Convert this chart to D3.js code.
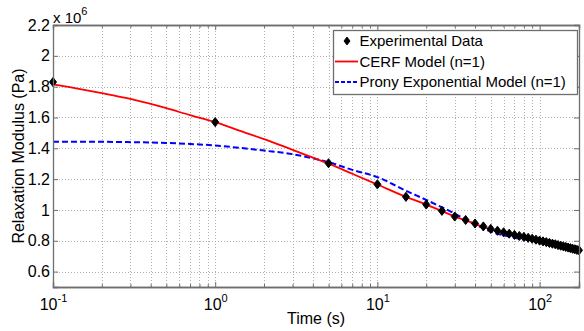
<!DOCTYPE html>
<html>
<head>
<meta charset="utf-8">
<script src="https://cdn.jsdelivr.net/npm/d3@7"></script>
<style>
  body { margin: 0; background: #fff; }
  svg { display: block; font-family: "Liberation Sans", Arial, sans-serif; }
</style>
</head>
<body>
<div id="container"></div>
<script>
// experimental relaxation data (time in s, modulus in MPa)
var expTime = [0.1, 1, 5, 10, 15, 20, 25, 30, 35, 40, 45, 50, 55, 60, 65, 70, 75, 80, 85, 90,
  95, 100, 105, 110, 115, 120, 125, 130, 135, 140, 145, 150, 155, 160, 165, 170, 175];
var expModulus = [1.83, 1.57, 1.303, 1.166, 1.085, 1.035, 0.994, 0.957, 0.935, 0.912, 0.893, 0.877,
  0.865, 0.855, 0.846, 0.838, 0.831, 0.825, 0.819, 0.813, 0.807, 0.801, 0.796, 0.791, 0.786,
  0.781, 0.777, 0.772, 0.768, 0.764, 0.760, 0.756, 0.752, 0.748, 0.745, 0.741, 0.738];

// CERF model (n=1)
var cerfTime = [0.1, 0.15, 0.2, 0.3, 0.5, 0.7, 1, 1.5, 2, 3, 4, 5, 7, 10, 15, 20, 30, 40, 50, 70, 100, 130, 175];
var cerfModulus = [1.815, 1.783, 1.758, 1.72, 1.66, 1.615, 1.57, 1.505, 1.46, 1.39, 1.34, 1.30, 1.235,
  1.165, 1.085, 1.035, 0.958, 0.91, 0.872, 0.832, 0.795, 0.763, 0.735];

// Prony exponential model (n=1)
var pronyTime = [0.1, 0.2, 0.3, 0.5, 0.7, 1, 1.5, 2, 3, 4, 5, 7, 10, 15, 20, 30, 40, 50, 70, 100, 130, 175];
var pronyModulus = [1.443, 1.442, 1.44, 1.435, 1.428, 1.418, 1.40, 1.385, 1.362, 1.335, 1.31, 1.26,
  1.213, 1.125, 1.065, 0.976, 0.905, 0.86, 0.82, 0.795, 0.779, 0.755];

var yTicks = [0.6, 0.8, 1, 1.2, 1.4, 1.6, 1.8, 2, 2.2];
var xDecades = [0.1, 1, 10, 100];
var xDecadeExp = ['-1', '0', '1', '2'];
var legendNames = ['Experimental Data', 'CERF Model (n=1)', 'Prony Exponential Model (n=1)'];

var width = 584, height = 331;
var svg = d3.select('#container').append('svg')
  .attr('width', width)
  .attr('height', height);

var x = d3.scaleLog().domain([0.1, 175]).range([53, 579]);
var y = d3.scaleLinear().domain([0.5, 2.2]).range([287, 25]);
var frameColor = '#6e6e6e';

svg.append('rect')
  .attr('x', x.range()[0]).attr('y', y.range()[1])
  .attr('width', x.range()[1] - x.range()[0])
  .attr('height', y.range()[0] - y.range()[1])
  .attr('fill', '#fff');

// dotted grid, major and minor
var grid = svg.append('g')
  .attr('stroke', '#b0b0b0')
  .attr('stroke-width', 1)
  .attr('stroke-dasharray', '1,2');

grid.selectAll('.gx').data(x.ticks()).enter().append('line')
  .attr('x1', function(d) { return Math.round(x(d)) + 0.5; })
  .attr('x2', function(d) { return Math.round(x(d)) + 0.5; })
  .attr('y1', y.range()[0]).attr('y2', y.range()[1]);

grid.selectAll('.gy').data(yTicks).enter().append('line')
  .attr('x1', x.range()[0]).attr('x2', x.range()[1])
  .attr('y1', function(d) { return Math.round(y(d)) + 0.5; })
  .attr('y2', function(d) { return Math.round(y(d)) + 0.5; });

// curves
svg.append('clipPath').attr('id', 'clip').append('rect')
  .attr('x', x.range()[0]).attr('y', y.range()[1])
  .attr('width', x.range()[1] - x.range()[0])
  .attr('height', y.range()[0] - y.range()[1]);

var plot = svg.append('g').attr('clip-path', 'url(#clip)');

var line = d3.line()
  .x(function(d) { return x(d[0]); })
  .y(function(d) { return y(d[1]); })
  .curve(d3.curveMonotoneX);

plot.append('path')
  .datum(d3.zip(pronyTime, pronyModulus))
  .attr('d', line)
  .attr('fill', 'none')
  .attr('stroke', '#0000ff')
  .attr('stroke-width', 2)
  .attr('stroke-dasharray', '6,3');

plot.append('path')
  .datum(d3.zip(cerfTime, cerfModulus))
  .attr('d', line)
  .attr('fill', 'none')
  .attr('stroke', '#ff0000')
  .attr('stroke-width', 1.8);

// matlab-ish diamond: a bit taller than wide
var matlabDiamond = {
  draw: function(context, size) {
    var r = Math.sqrt(size) / 2;
    context.moveTo(0, -r * 1.3);
    context.lineTo(r, 0);
    context.lineTo(0, r * 1.3);
    context.lineTo(-r, 0);
    context.closePath();
  }
};
var diamond = d3.symbol().type(matlabDiamond).size(49);

svg.append('g').selectAll('path')
  .data(d3.zip(expTime, expModulus))
  .enter().append('path')
    .attr('d', diamond)
    .attr('transform', function(d) { return 'translate(' + x(d[0]) + ',' + y(d[1]) + ')'; })
    .attr('fill', '#000')
    .attr('stroke', '#000')
    .attr('stroke-width', 1);

// axes (ticks point inward, box all round)
function styleAxis(g) {
  g.selectAll('.domain').attr('stroke', frameColor).attr('stroke-width', 1.3);
  g.selectAll('.tick line').attr('stroke', frameColor);
  g.selectAll('text').attr('font-size', 15).attr('fill', '#000')
    .attr('font-family', '"Liberation Sans", Arial, sans-serif');
}

var minorTicks = x.ticks().filter(function(d) { return xDecades.indexOf(d) < 0; });

svg.append('g')
  .attr('transform', 'translate(0,' + y.range()[0] + ')')
  .call(d3.axisBottom(x).tickValues(minorTicks).tickSize(-3).tickFormat(''))
  .call(styleAxis);
svg.append('g')
  .attr('transform', 'translate(0,' + y.range()[1] + ')')
  .call(d3.axisTop(x).tickValues(minorTicks).tickSize(-3).tickFormat(''))
  .call(styleAxis);
svg.append('g')
  .attr('transform', 'translate(0,' + y.range()[1] + ')')
  .call(d3.axisTop(x).tickValues(xDecades).tickSize(-5).tickFormat(''))
  .call(styleAxis);

var xAxis = svg.append('g')
  .attr('transform', 'translate(0,' + y.range()[0] + ')')
  .call(d3.axisBottom(x).tickValues(xDecades).tickSize(-5).tickPadding(0).tickFormat(''))
  .call(styleAxis);

// 10^n labels with superscripts
xAxis.selectAll('.tick').append('text')
  .attr('y', 23)
  .attr('text-anchor', 'middle')
  .attr('font-size', 16)
  .attr('fill', '#000')
  .each(function(d, i) {
    var t = d3.select(this);
    t.append('tspan').text('10');
    t.append('tspan').attr('dy', -8).attr('font-size', 11).text(xDecadeExp[i]);
  });

svg.append('g')
  .attr('transform', 'translate(' + x.range()[0] + ',0)')
  .call(d3.axisLeft(y).tickValues(yTicks).tickSize(-5).tickPadding(3)
    .tickFormat(function(d) { return String(d); }))
  .call(styleAxis)
  .selectAll('text').attr('font-size', 16);

svg.append('g')
  .attr('transform', 'translate(' + x.range()[1] + ',0)')
  .call(d3.axisRight(y).tickValues(yTicks).tickSize(-5).tickFormat(''))
  .call(styleAxis);

// exponent note
var note = svg.append('text')
  .attr('x', 53).attr('y', 23)
  .attr('font-size', 15);
note.append('tspan').text('x 10');
note.append('tspan').attr('dy', -8).attr('font-size', 11).text('6');

// axis titles
svg.append('text')
  .attr('x', (x.range()[0] + x.range()[1]) / 2)
  .attr('y', 324)
  .attr('text-anchor', 'middle')
  .attr('font-size', 16)
  .text('Time (s)');

svg.append('text')
  .attr('transform', 'translate(23.5,' + (y.range()[0] + y.range()[1]) / 2 + ') rotate(-90)')
  .attr('text-anchor', 'middle')
  .attr('font-size', 16)
  .text('Relaxation Modulus (Pa)');

// legend
var legend = svg.append('g').attr('transform', 'translate(333,30)');
legend.append('rect')
  .attr('x', 0.5).attr('y', 0.5)
  .attr('width', 244).attr('height', 64)
  .attr('fill', '#fff')
  .attr('stroke', frameColor)
  .attr('stroke-width', 1.3);

var rows = legend.selectAll('.row').data(legendNames).enter().append('g')
  .attr('transform', function(d, i) { return 'translate(0,' + (11 + i * 20.5) + ')'; });

rows.append('text')
  .attr('x', 26.5)
  .attr('dy', '0.36em')
  .attr('font-size', 15)
  .text(function(d) { return d; });

rows.filter(function(d, i) { return i === 0; }).append('path')
  .attr('d', d3.symbol().type(matlabDiamond).size(36))
  .attr('transform', 'translate(14,0)')
  .attr('fill', '#000').attr('stroke', '#000');

rows.filter(function(d, i) { return i === 1; }).append('line')
  .attr('x1', 2).attr('x2', 25)
  .attr('stroke', '#ff0000').attr('stroke-width', 1.8);

rows.filter(function(d, i) { return i === 2; }).append('line')
  .attr('x1', 2).attr('x2', 25)
  .attr('stroke', '#0000ff').attr('stroke-width', 2)
  .attr('stroke-dasharray', '4,2');
</script>
</body>
</html>
